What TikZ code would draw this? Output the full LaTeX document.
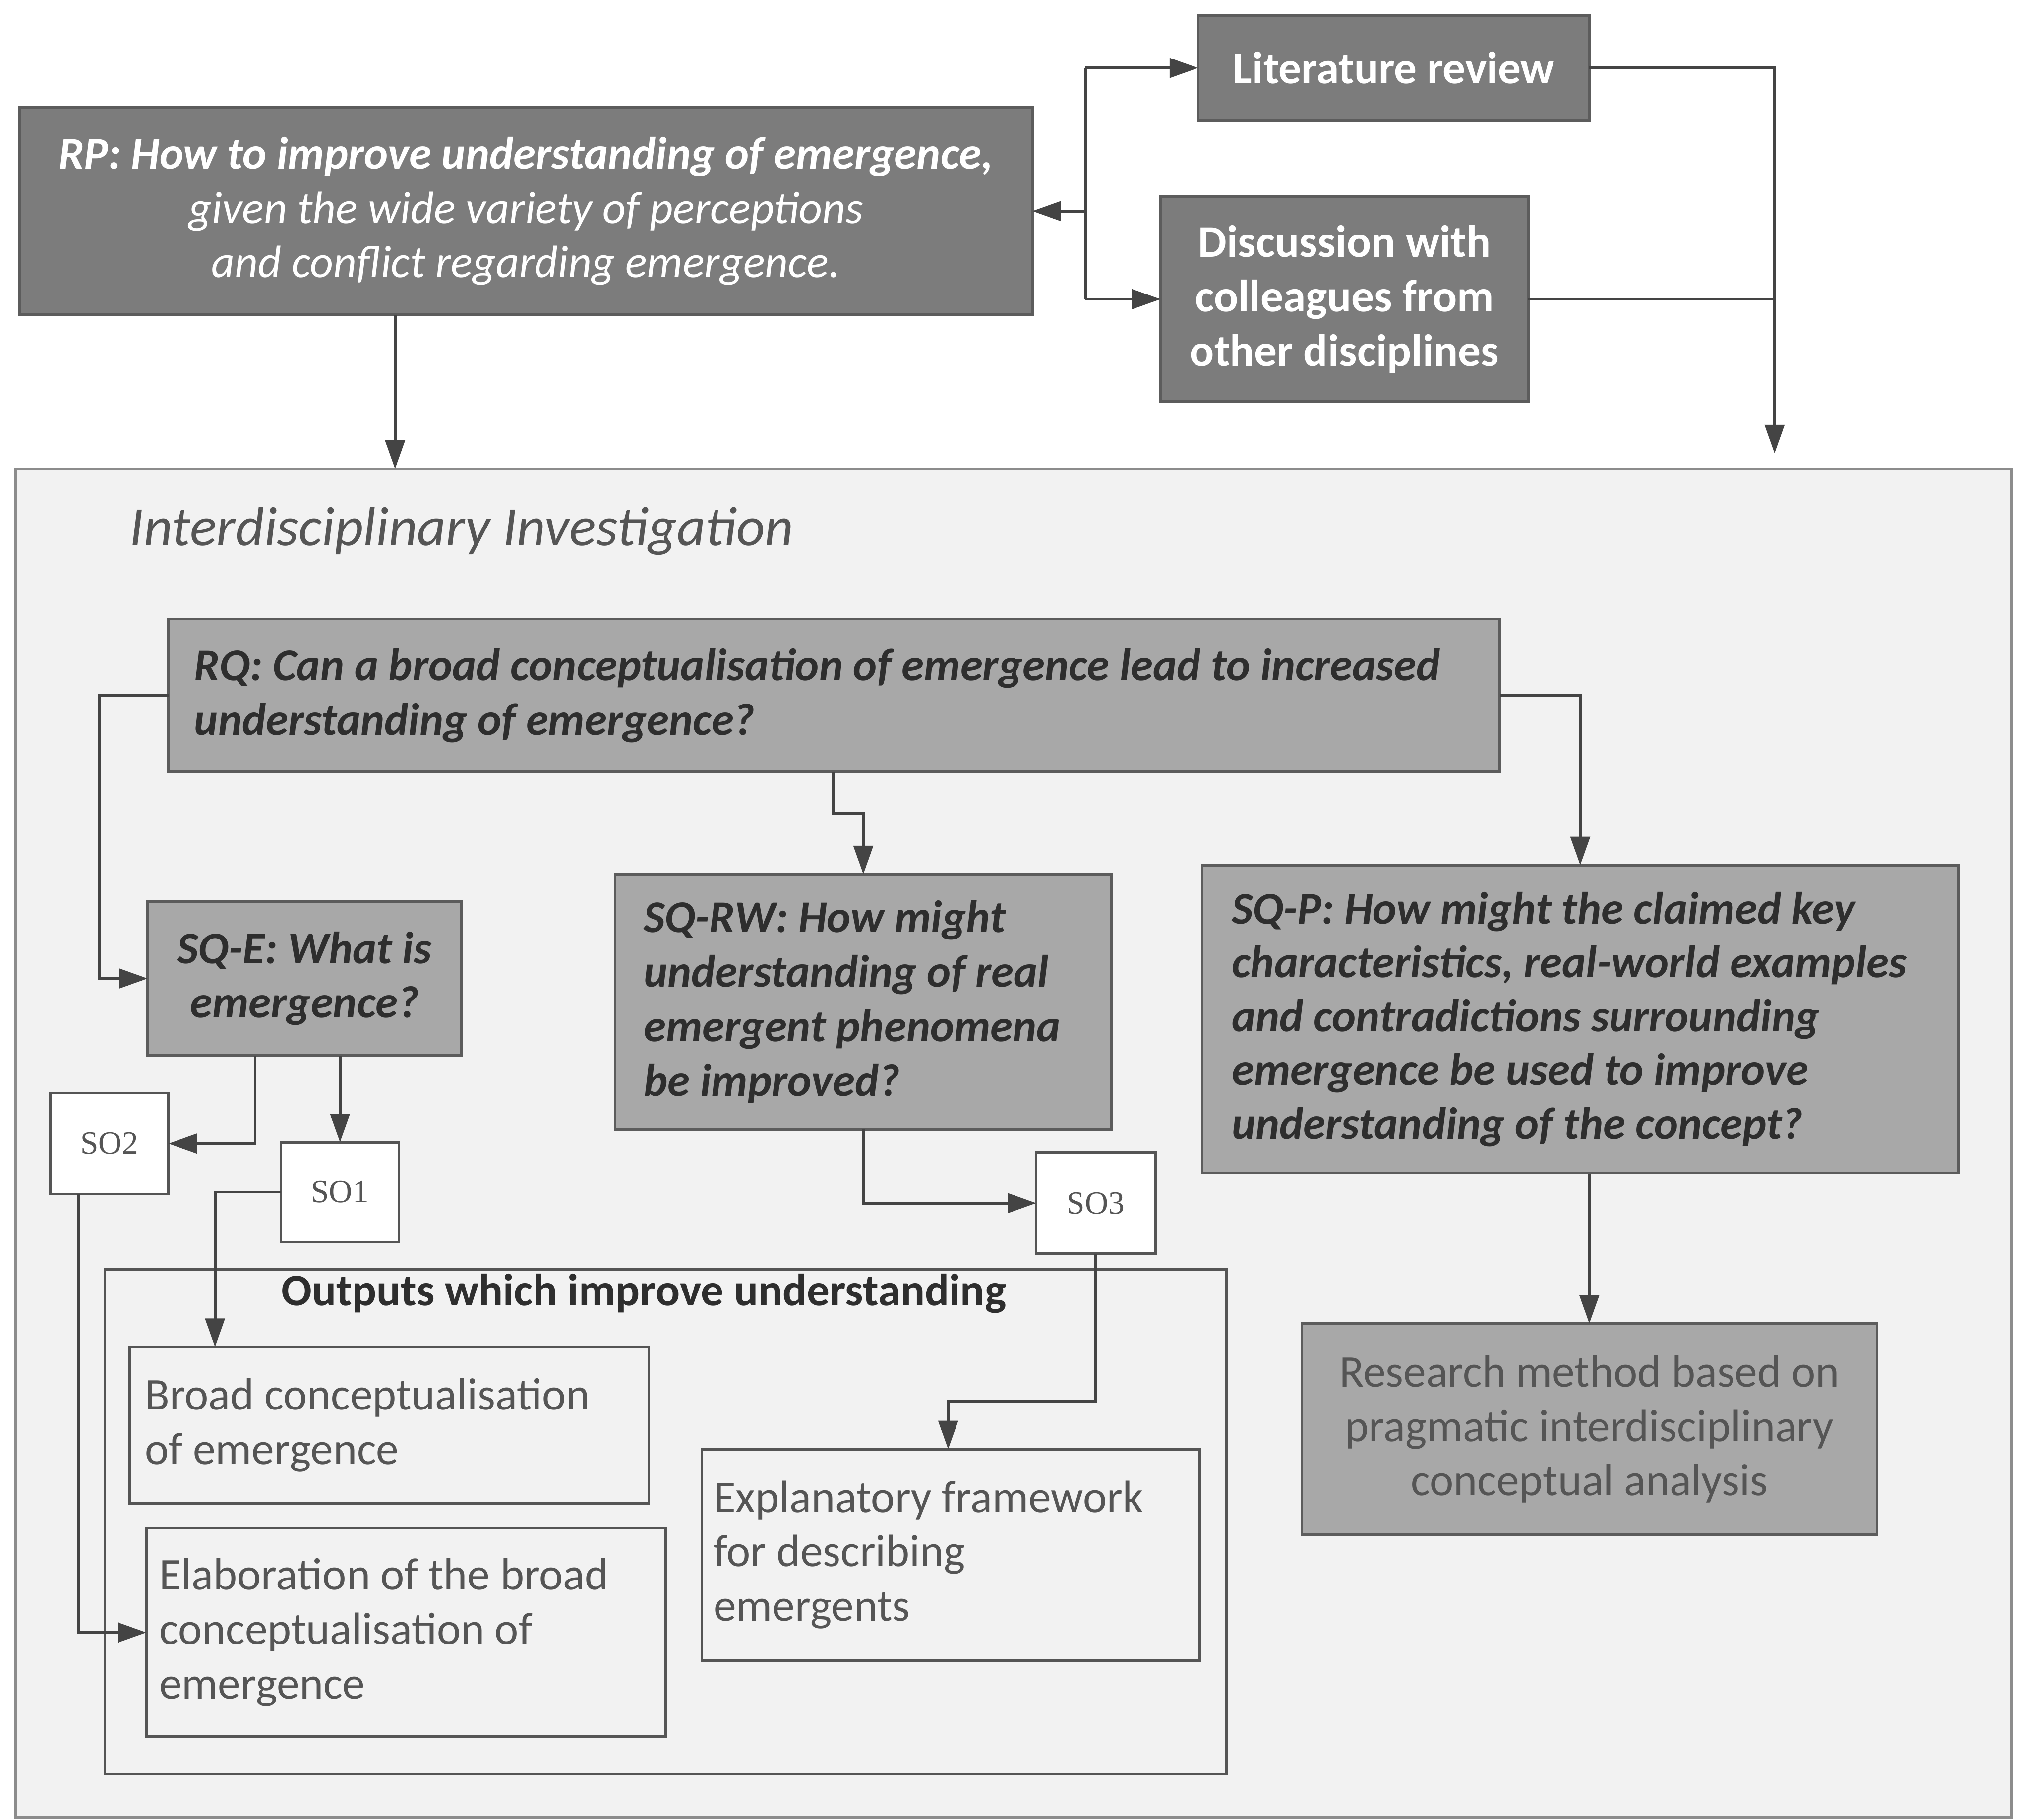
\documentclass[tikz,border=0pt]{standalone}
\usepackage{fontspec}
\setmainfont{Carlito}
\newfontfamily\labelfont{Liberation Serif}
\usetikzlibrary{arrows.meta,calc}

\definecolor{darkfill}{HTML}{7C7C7C}
\definecolor{darkline}{HTML}{5C5C5C}
\definecolor{midfill}{HTML}{A8A8A8}
\definecolor{panelfill}{HTML}{F2F2F2}
\definecolor{panelline}{HTML}{8C8C8C}
\definecolor{wire}{HTML}{444444}
\definecolor{ink}{HTML}{2E2E2E}
\definecolor{softink}{HTML}{555555}

\tikzset{
  base/.style={draw, line width=2pt, inner sep=0pt, outer sep=0pt, anchor=north west,
    font=\fontsize{35}{42}\selectfont},
  darkbox/.style={base, fill=darkfill, draw=darkline, text=white, align=center},
  midbox/.style={base, fill=midfill, draw=darkline, text=ink},
  qfont/.style={font=\bfseries\itshape\fontsize{35}{42}\selectfont},
  outbox/.style={base, draw=softink, text=softink},
  sobox/.style={base, fill=white, draw=softink, text=softink, font=\labelfont\fontsize{25}{28}\selectfont},
  wireline/.style={draw=wire, line width=2.2pt},
  arr/.style={wireline, -{Triangle[length=22pt,width=15pt]}},
}

\begin{document}
\begin{tikzpicture}[x=1pt,y=-1pt]
\useasboundingbox (0,0) rectangle (1568,1405);
\fill[white] (0,0) rectangle (1568,1405);

% ---- top row: problem and sources ----
\node[darkbox, minimum width=782pt, minimum height=160pt] (rp) at (15,83)
  {{\bfseries\itshape RP: How to improve understanding of emergence,}\\
   {\itshape given the wide variety of perceptions}\\
   {\itshape and conflict regarding emergence.}};
\node[darkbox, minimum width=302pt, minimum height=81pt, font=\bfseries\fontsize{35}{42}\selectfont] (lit) at (925,12)
  {Literature review};
\node[darkbox, minimum width=284pt, minimum height=158pt, font=\bfseries\fontsize{35}{42}\selectfont] (disc) at (896,152)
  {Discussion with\\colleagues from\\other disciplines};

% ---- investigation panel ----
\node[base, fill=panelfill, draw=panelline, minimum width=1541pt, minimum height=1041pt] (outer) at (12,362) {};
\node[anchor=west, inner sep=0pt, text=softink, font=\itshape\fontsize{43}{48}\selectfont] (outertitle)
  at (100,410) {Interdisciplinary Investigation};

\node[midbox, qfont, minimum width=1028pt, minimum height=118pt, text width=988pt, inner xsep=20pt, align=flush left] (rq) at (130,478)
  {RQ: Can a broad conceptualisation of emergence lead to increased\\understanding of emergence?};

\node[midbox, qfont, minimum width=242pt, minimum height=119pt, align=center] (sqe) at (114,696)
  {SQ-E: What is\\emergence?};
\node[midbox, qfont, minimum width=383pt, minimum height=197pt, text width=339pt, inner xsep=22pt, align=flush left] (sqrw) at (475,675)
  {SQ-RW: How might\\understanding of real\\emergent phenomena\\be improved?};
\node[midbox, minimum width=584pt, minimum height=238pt, text width=538pt, inner xsep=23pt, align=flush left,
  font=\bfseries\itshape\fontsize{35}{41.5}\selectfont] (sqp) at (928,668)
  {SQ-P: How might the claimed key\\characteristics, real-world examples\\and contradictions surrounding\\emergence be used to improve\\understanding of the concept?};
\node[midbox, minimum width=444pt, minimum height=163pt, align=center, text=softink] (research) at (1005,1022)
  {Research method based on\\pragmatic interdisciplinary\\conceptual analysis};

\node[sobox, minimum width=91pt, minimum height=78pt] (so2) at (39,844) {SO2};
\node[sobox, minimum width=91pt, minimum height=77pt] (so1) at (217,882) {SO1};
\node[sobox, minimum width=92pt, minimum height=78pt] (so3) at (800,890) {SO3};

% ---- outputs ----
\node[outbox, minimum width=866pt, minimum height=390pt] (outputs) at (81,980) {};
\node[anchor=center, inner sep=0pt, text=ink, font=\bfseries\fontsize{35}{40}\selectfont] (outputstitle)
  at (497,999) {Outputs which improve understanding};
\node[outbox, minimum width=401pt, minimum height=121pt, text width=377pt, inner xsep=12pt, align=flush left] (broad) at (100,1040)
  {Broad conceptualisation\\of emergence};
\node[outbox, minimum width=401pt, minimum height=161pt, text width=381pt, inner xsep=10pt, align=flush left] (elab) at (113,1180)
  {Elaboration of the broad\\conceptualisation of\\emergence};
\node[outbox, minimum width=384pt, minimum height=163pt, text width=366pt, inner xsep=9pt, align=flush left] (expl) at (542,1119)
  {Explanatory framework\\for describing\\emergents};

% ---- connectors: top row ----
\coordinate (bus) at (838,0);
\draw[wireline] (bus |- lit.west) -- (bus |- disc.west);
\draw[arr] (bus |- lit.west) -- (lit.west);
\draw[arr] (bus |- disc.west) -- (disc.west);
\draw[arr] (bus |- rp.east) -- (rp.east);

\coordinate (rbus) at (1370,350);
\draw[arr] (lit.east) -| (rbus);
\draw[wireline] (disc.east) -- (disc.east -| rbus);

\draw[arr] ([xshift=290pt]rp.south west) coordinate (rpdown) -- (rpdown |- outer.north);

% ---- connectors: questions ----
\coordinate (lq) at (77,0);
\draw[arr] (rq.west) -| (lq |- sqe.west) -- (sqe.west);
\draw[arr] ([xshift=513pt]rq.south west) -- ++(0,32) -| (sqrw.north);
\draw[arr] (rq.east) -| (sqp.north);

\draw[arr] ([xshift=83pt]sqe.south west) |- (so2.east);
\draw[arr] (sqe.south -| so1.north) -- (so1.north);
\draw[arr] (sqrw.south) |- (so3.west);
\draw[arr] (sqp.south -| research.north) -- (research.north);

% ---- connectors: objectives to outputs ----
\draw[arr] (so1.west) -| ([xshift=66pt]broad.north west);
\draw[arr] ([xshift=22pt]so2.south west) |- (elab.west);
\draw[arr] (so3.south) -- ++(0,114) -| ([xshift=190pt]expl.north west);

\end{tikzpicture}
\end{document}
